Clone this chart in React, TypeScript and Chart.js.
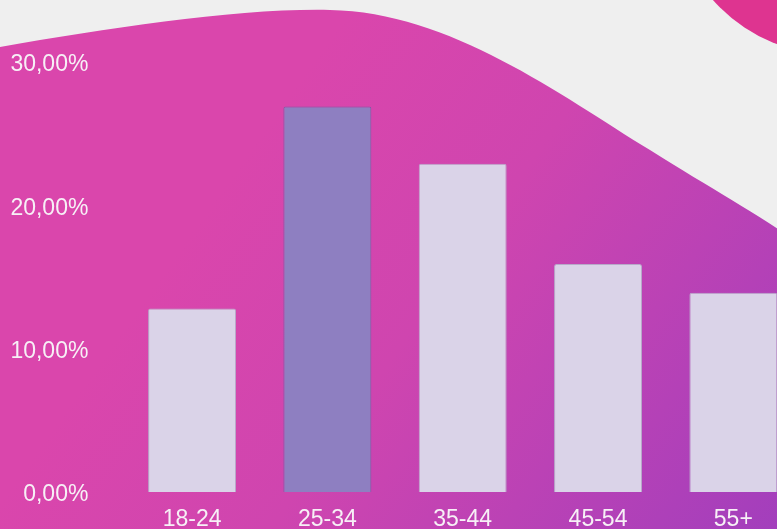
import React, { useEffect, useRef } from "react";
import { Chart, registerables } from "chart.js";

Chart.register(...registerables);

const categories = ["18-24", "25-34", "35-44", "45-54", "55+"];
const shares = [12.8, 26.9, 22.9, 15.9, 13.9];
const highlightIndex = 1;
const yTickValues = [0, 10, 20, 30];

const CANVAS_W = 801;
const CANVAS_H = 529;

const backgroundPlugin = {
  id: "decorBackground",
  beforeDraw(chart: any) {
    const ctx = chart.ctx as CanvasRenderingContext2D;
    ctx.save();
    ctx.fillStyle = "#efefef";
    ctx.fillRect(0, 0, CANVAS_W, CANVAS_H);

    // wave
    ctx.beginPath();
    ctx.moveTo(0, 47);
    ctx.bezierCurveTo(110, 28, 240, 8, 330, 10);
    ctx.bezierCurveTo(450, 12, 560, 95, 650, 150);
    ctx.bezierCurveTo(710, 188, 760, 215, 801, 245);
    ctx.lineTo(CANVAS_W, CANVAS_H);
    ctx.lineTo(0, CANVAS_H);
    ctx.closePath();
    const g = ctx.createLinearGradient(250, 150, 800, 540);
    g.addColorStop(0, "#da46ac");
    g.addColorStop(0.35, "#cf45af");
    g.addColorStop(1, "#a03ebd");
    ctx.fillStyle = g;
    ctx.fill();

    // circle top-right
    ctx.beginPath();
    ctx.arc(835, -108, 163, 0, Math.PI * 2);
    ctx.fillStyle = "#de3490";
    ctx.fill();
    ctx.restore();
  },
};

export default function App() {
  const canvasRef = useRef<HTMLCanvasElement | null>(null);

  useEffect(() => {
    const canvas = canvasRef.current;
    if (!canvas) return;
    const chart = new Chart(canvas, {
      type: "bar",
      data: {
        labels: categories,
        datasets: [
          {
            data: shares,
            backgroundColor: shares.map((_, i) => (i === highlightIndex ? "#8e7fc1" : "#dad3e8")),
            borderColor: shares.map((_, i) => (i === highlightIndex ? "#7b5ca4" : "#b7a9c9")),
            borderWidth: 1,
            borderRadius: 2,
            borderSkipped: "bottom",
            categoryPercentage: 1,
            barPercentage: 0.65,
          },
        ],
      },
      options: {
        responsive: false,
        animation: false,
        devicePixelRatio: window.devicePixelRatio || 1,
        layout: { padding: { top: 62, right: 0, bottom: 0, left: 0 } },
        plugins: {
          legend: { display: false },
          tooltip: { enabled: false },
        },
        scales: {
          x: {
            grid: { display: false, drawTicks: false },
            border: { display: false },
            ticks: {
              color: "#f7f0f6",
              font: { family: "'Liberation Sans', Arial, sans-serif", size: 23 },
              padding: 14,
            },
            afterFit(scale: any) {
              scale.height = 37;
            },
          },
          y: {
            min: 0,
            max: 30,
            grid: { display: false, drawTicks: true, tickLength: 34 },
            border: { display: false },
            afterBuildTicks(scale: any) {
              scale.ticks = yTickValues.map((v) => ({ value: v }));
            },
            ticks: {
              color: "#f7f0f6",
              font: { family: "'Liberation Sans', Arial, sans-serif", size: 23 },
              padding: 2,
              labelOffset: 3,
              callback: (v: any) => Number(v).toFixed(2).replace(".", ",") + "%",
            },
            afterFit(scale: any) {
              scale.width = 124.4;
            },
          },
        },
      },
      plugins: [backgroundPlugin],
    });
    return () => chart.destroy();
  }, []);

  return (
    <div
      style={{
        position: "fixed",
        left: 0,
        top: 0,
        width: 777,
        height: 529,
        overflow: "hidden",
        background: "#efefef",
      }}
    >
      <canvas
        ref={canvasRef}
        width={CANVAS_W}
        height={CANVAS_H}
        style={{ width: CANVAS_W, height: CANVAS_H, display: "block" }}
      />
    </div>
  );
}
